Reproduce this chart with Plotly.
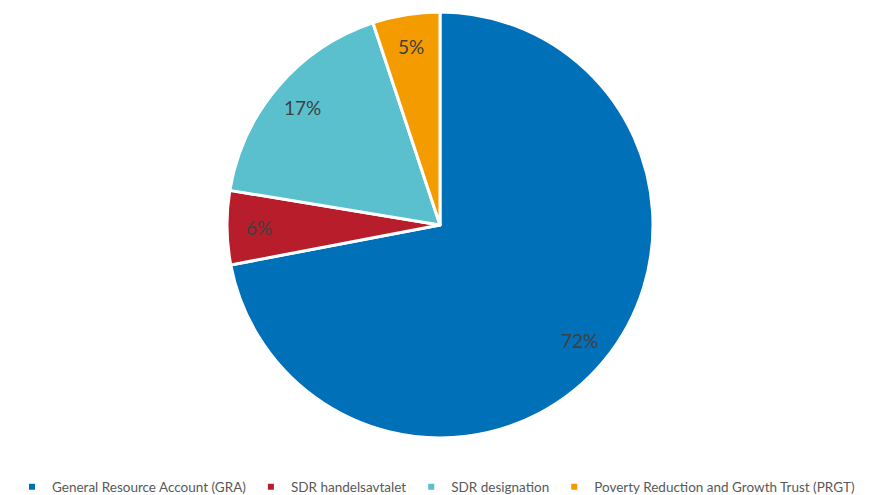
import math
import plotly.graph_objects as go

categories = ["General Resource Account (GRA)", "SDR handelsavtalet", "SDR designation",
              "Poverty Reduction and Growth Trust (PRGT)"]
values = [72.0, 5.6, 17.3, 5.1]
colors = ["#0070B8", "#B81D2B", "#5BC0CE", "#F49B00"]

W, H = 872, 495
ML, MR, MT, MB = 8, 0, 12, 57
PW, PH = W - ML - MR, H - MT - MB
R_PX = min(PW, PH) / 2
LABEL_R = 0.85

fig = go.Figure()
fig.add_trace(go.Pie(
    labels=categories,
    values=values,
    sort=False,
    direction="clockwise",
    rotation=0,
    marker=dict(colors=colors, line=dict(color="white", width=3)),
    textinfo="none",
    hoverinfo="label+percent",
    showlegend=False,
))

# legend entries with small square markers
for name, col in zip(categories, colors):
    fig.add_trace(go.Scatter(x=[None], y=[None], mode="markers", name=name,
                             marker=dict(symbol="square", size=6, color=col),
                             showlegend=True))

# percentage labels placed at the mid-angle of each slice
total = sum(values)
cum = 0.0
for v in values:
    mid = (cum + v / 2) / total * 2 * math.pi
    cum += v
    dx = LABEL_R * R_PX * math.sin(mid)
    dy = LABEL_R * R_PX * math.cos(mid)
    fig.add_annotation(x=0.5 + dx / PW, y=0.5 + dy / PH, xref="paper", yref="paper",
                       xanchor="center", yanchor="middle",
                       text=f"{round(v / total * 100)}%", showarrow=False,
                       font=dict(family="Lato", size=19, color="#404040"))

fig.update_layout(
    width=W, height=H,
    margin=dict(l=ML, r=MR, t=MT, b=MB, autoexpand=False),
    paper_bgcolor="white",
    plot_bgcolor="white",
    font=dict(family="Lato", color="#595959"),
    xaxis=dict(visible=False),
    yaxis=dict(visible=False),
    showlegend=True,
    legend=dict(orientation="h", x=0.5, xanchor="center", xref="container",
                y=1 - 487 / H, yanchor="middle", yref="container",
                font=dict(size=13.5, color="#595959"), itemwidth=30,
                tracegroupgap=0),
)

fig.write_html("out.html")
